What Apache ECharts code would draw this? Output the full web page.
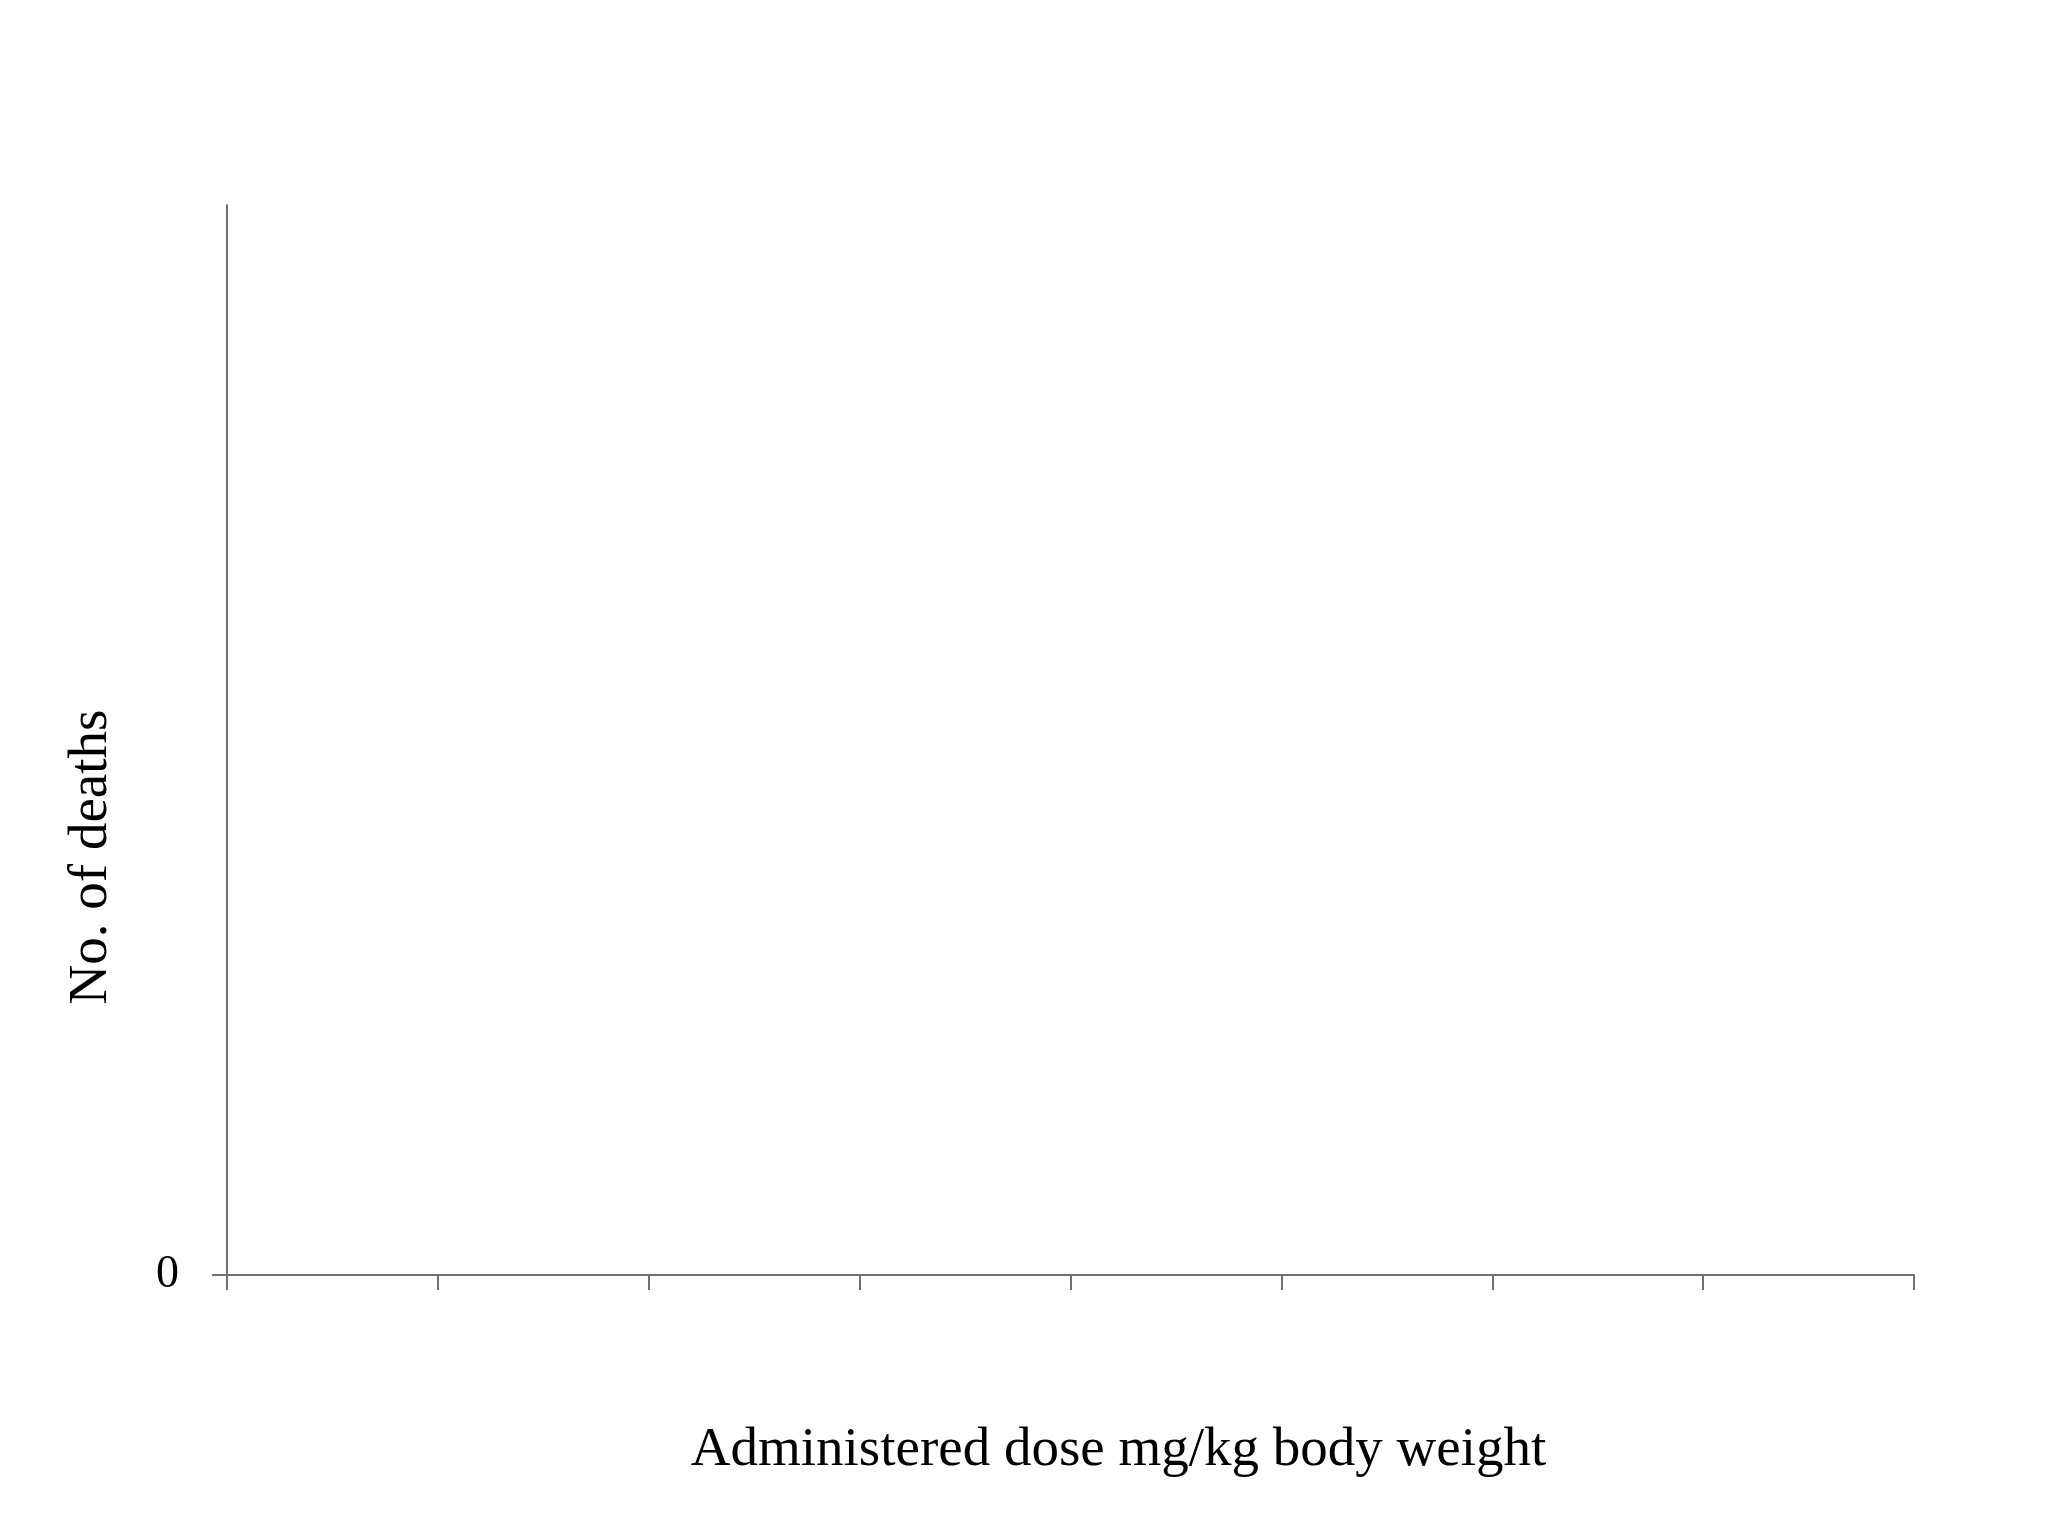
<!DOCTYPE html>
<html>
<head>
<meta charset="utf-8">
<script src="https://cdn.jsdelivr.net/npm/echarts@6/dist/echarts.min.js"></script>
<style>
html,body{margin:0;padding:0;background:#fff}
#chart{width:2048px;height:1536px}
</style>
</head>
<body>
<div id="chart"></div>
<script>
// dose groups (no labels shown in the source), deaths per group (none plotted)
const doses=["D1","D2","D3","D4","D5","D6","D7","D8"];
const deaths=[null,null,null,null,null,null,null,null];
const yTicks=[0];

const font="Liberation Serif";
const axisCol="#707070";

const chart=echarts.init(document.querySelector("#chart"));
chart.setOption({
  animation:false,
  backgroundColor:"#fff",
  grid:{left:227,right:134,top:205,bottom:261},
  xAxis:{
    type:"category",
    data:doses,
    boundaryGap:true,
    name:"Administered dose mg/kg body weight",
    nameLocation:"middle",
    nameGap:148,
    nameTextStyle:{fontFamily:font,fontSize:55,color:"#000",padding:[0,0,0,96]},
    axisLine:{lineStyle:{color:axisCol,width:2}},
    axisTick:{show:true,interval:0,length:15,lineStyle:{color:axisCol,width:2}},
    axisLabel:{show:false,interval:0},
    splitLine:{show:false}
  },
  yAxis:{
    type:"value",
    min:0,max:10,interval:10,
    name:"No. of deaths",
    nameLocation:"middle",
    nameGap:108,
    nameTextStyle:{fontFamily:font,fontSize:55,color:"#000",padding:[0,234,0,0]},
    axisLine:{show:true,lineStyle:{color:axisCol,width:2}},
    axisTick:{show:true,length:15,customValues:yTicks,lineStyle:{color:axisCol,width:2}},
    axisLabel:{customValues:yTicks,margin:48,fontFamily:font,fontSize:46,color:"#000"},
    splitLine:{show:false}
  },
  series:[{type:"bar",data:deaths}]
});
</script>
</body>
</html>
